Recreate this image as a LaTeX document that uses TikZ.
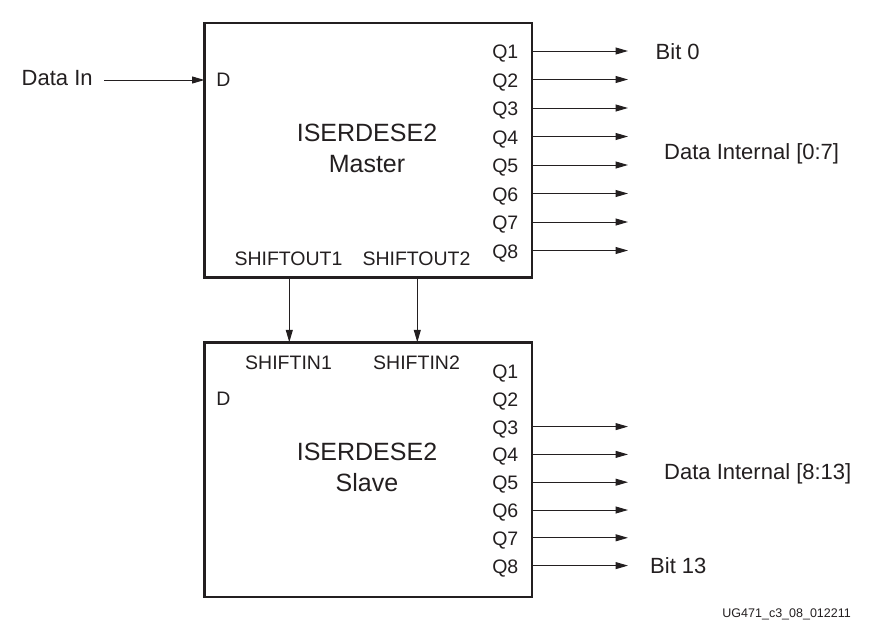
\documentclass[tikz,border=0pt]{standalone}
\usepackage{fontspec}
\setmainfont{Liberation Sans}
\usetikzlibrary{arrows.meta}
\definecolor{ink}{HTML}{231F20}
\begin{document}
\begin{tikzpicture}[x=1pt,y=-1pt,
  blk/.style={draw=ink, line width=2.5pt, inner sep=0pt, outer sep=0pt, minimum width=327.5pt, minimum height=254.5pt},
  arr/.style={draw=ink, line width=1pt, -{Triangle[length=12.5pt,width=7pt]}},
  port/.style={font=\fontsize{19.5}{19.5}\selectfont, text=ink, inner sep=0pt},
  lbl/.style={font=\fontsize{22}{22}\selectfont, text=ink, inner sep=0pt, anchor=base west},
  ttl/.style={font=\fontsize{25}{25}\selectfont, text=ink, inner sep=0pt, anchor=base},
  foot/.style={font=\fontsize{12.5}{12.5}\selectfont, text=ink, inner sep=0pt, anchor=base east}
]
\useasboundingbox (0,0) rectangle (880,629);

% blocks
\node[blk] (m) at (368.25,150.25) {};
\node[blk] (s) at (368.25,469.5) {};

% titles
\node[ttl] (mt1) at (367,141.5) {ISERDESE2};
\node[ttl] (mt2) at (367,172) {Master};
\node[ttl] (st1) at (367,460.5) {ISERDESE2};
\node[ttl] (st2) at (367,491) {Slave};

% D inputs
\node[port, anchor=base] (md) at (223.5,86.5) {D};
\node[port, anchor=base] (sd) at (223.5,405.5) {D};
\node[lbl] (din) at (21.5,85) {Data In};
\coordinate (dinst) at (104,80);
\draw[arr] (dinst) -- (m.west |- dinst);

% shift ports
\node[port, anchor=base] (so1) at (288.5,265) {SHIFTOUT1};
\node[port, anchor=base] (so2) at (416.5,265) {SHIFTOUT2};
\node[port, anchor=base] (si1) at (288.5,369) {SHIFTIN1};
\node[port, anchor=base] (si2) at (416.5,369) {SHIFTIN2};
\coordinate (sh1) at (289.3,0);
\coordinate (sh2) at (417.3,0);
\draw[arr] (m.south -| sh1) -- (s.north -| sh1);
\draw[arr] (m.south -| sh2) -- (s.north -| sh2);

% master outputs
\foreach \i in {1,...,8}{
  \pgfmathsetmacro{\yy}{51+28.5*(\i-1)}
  \coordinate (mo\i) at (628,\yy);
  \node[port, anchor=base east] (mq\i) at (518.5,\yy+7.5) {Q\i};
  \draw[arr] (m.east |- mo\i) -- (mo\i);
}

% slave outputs
\foreach \i in {1,...,8}{
  \pgfmathsetmacro{\yy}{371+27.8*(\i-1)}
  \coordinate (sc\i) at (628,\yy);
  \node[port, anchor=base east] (sq\i) at (518.5,\yy+7.5) {Q\i};
}
\foreach \i in {3,...,8}{
  \draw[arr] (s.east |- sc\i) -- (sc\i);
}

% output labels
\node[lbl] (b0) at (655.5,59) {Bit 0};
\node[lbl] (di0) at (664,159.5) {Data Internal [0:7]};
\node[lbl] (di1) at (664,479) {Data Internal [8:13]};
\node[lbl] (b13) at (650,573) {Bit 13};

\node[foot] (ref) at (851,617.5) {UG471\_c3\_08\_012211};
\end{tikzpicture}
\end{document}
